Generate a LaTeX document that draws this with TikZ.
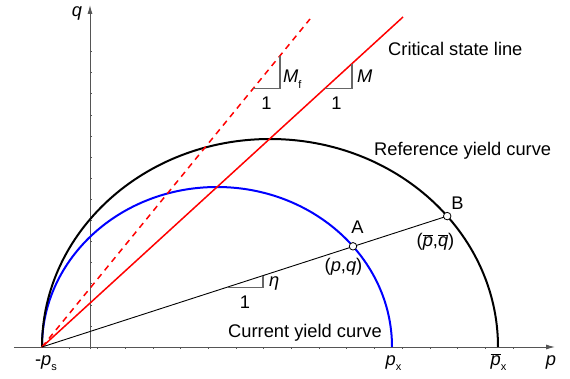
\documentclass[tikz,border=0pt]{standalone}
\usepackage{fontspec}
\setmainfont{Liberation Sans}
\usepackage{tikz}
\usetikzlibrary{arrows.meta}
\definecolor{axisgrey}{HTML}{555555}
\definecolor{leggrey}{HTML}{666666}
\newcommand{\lowsub}[1]{\raisebox{-0.55ex}{\fontsize{11}{12}\selectfont #1}}
\newcommand{\barit}[1]{$\overline{\mbox{\textit{#1}}}$}

\begin{document}
\begin{tikzpicture}[x=1pt,y=1pt,font=\fontsize{18.3}{22}\selectfont,
 axis/.style={draw=axisgrey,line width=1pt,-{Latex[length=9pt,width=5pt]}},
 refcurve/.style={draw=black,line width=2pt},
 curcurve/.style={draw=blue,line width=2pt},
 csl/.style={draw=red,line width=1.5pt},
 leg/.style={draw=leggrey,line width=1.2pt},
 txt/.style={inner sep=0pt,anchor=base},
 statept/.style={circle,draw=black,fill=white,line width=0.8pt,inner sep=0pt,minimum size=7.5pt}]
\useasboundingbox (-42,-31) rectangle (528,347);
\coordinate (ps) at (0,0);
\draw[axis] (-28,0) -- (513,0);
\draw[axis] (48,-2) -- (48,342);
\foreach \k in {1,...,17} \draw[axisgrey,line width=0.6pt] (27.7*\k,0) -- ++(0,-2);
\foreach \k in {1,...,14} \draw[axisgrey,line width=0.6pt] (48,21.1*\k) -- ++(2,0);
\draw[curcurve] (ps) arc[start angle=180,end angle=0,x radius=175,y radius=160];
\draw[refcurve] (ps) arc[start angle=180,end angle=0,x radius=228,y radius=208];
\draw[csl] (ps) -- (361,330);
\draw[csl,dash pattern=on 6pt off 5pt] (ps) -- (268,328);
\coordinate (Apt) at (311,100.7);
\coordinate (Bpt) at (405.2,130.9);
\draw[line width=0.9pt] (ps) -- (Bpt);
\node[statept] (A) at (Apt) {};
\node[statept] (B) at (Bpt) {};
\draw[leg] (283,258.4) -- (310,258.4) -- (310,283);
\draw[leg] (211,258.3) -- (238,258.3) -- (238,291.3);
\draw[leg] (185,59.8) -- (221,59.8) -- (221,71.5);
\node[txt,anchor=base west] (cslname) at (346,291) {Critical state line};
\node[txt,anchor=base west] (refname) at (332,192) {Reference yield curve};
\node[txt,anchor=base west] (curname) at (186,10) {Current yield curve};
\node[txt] (pslab) at (4,-18) {-\textit{p}\lowsub{s}};
\node[txt] (pxlab) at (351.5,-18) {\textit{p}\lowsub{x}};
\node[txt] (pbxlab) at (456.5,-18) {\barit{p}\lowsub{x}};
\node[txt] (plab) at (509,-18) {\textit{p}};
\node[txt] (qlab) at (35,330) {\textit{q}};
\node[txt] (Alab) at (315.5,114) {A};
\node[txt] (pqlab) at (301.5,76) {(\textit{p},\textit{q})};
\node[txt] (Blab) at (415.5,138) {B};
\node[txt] (pqbarlab) at (393.5,101) {(\barit{p},\barit{q})};
\node[txt,anchor=base west] (Mlab) at (315,264) {\textit{M}};
\node[txt,anchor=base west] (Mflab) at (241,264) {\textit{M}\lowsub{f}};
\node[txt] (oneM) at (294.5,237) {1};
\node[txt] (oneMf) at (224.5,237) {1};
\node[txt,anchor=base west] (etalab) at (227,61) {\textit{η}};
\node[txt] (oneeta) at (203,39) {1};
\end{tikzpicture}
\end{document}
